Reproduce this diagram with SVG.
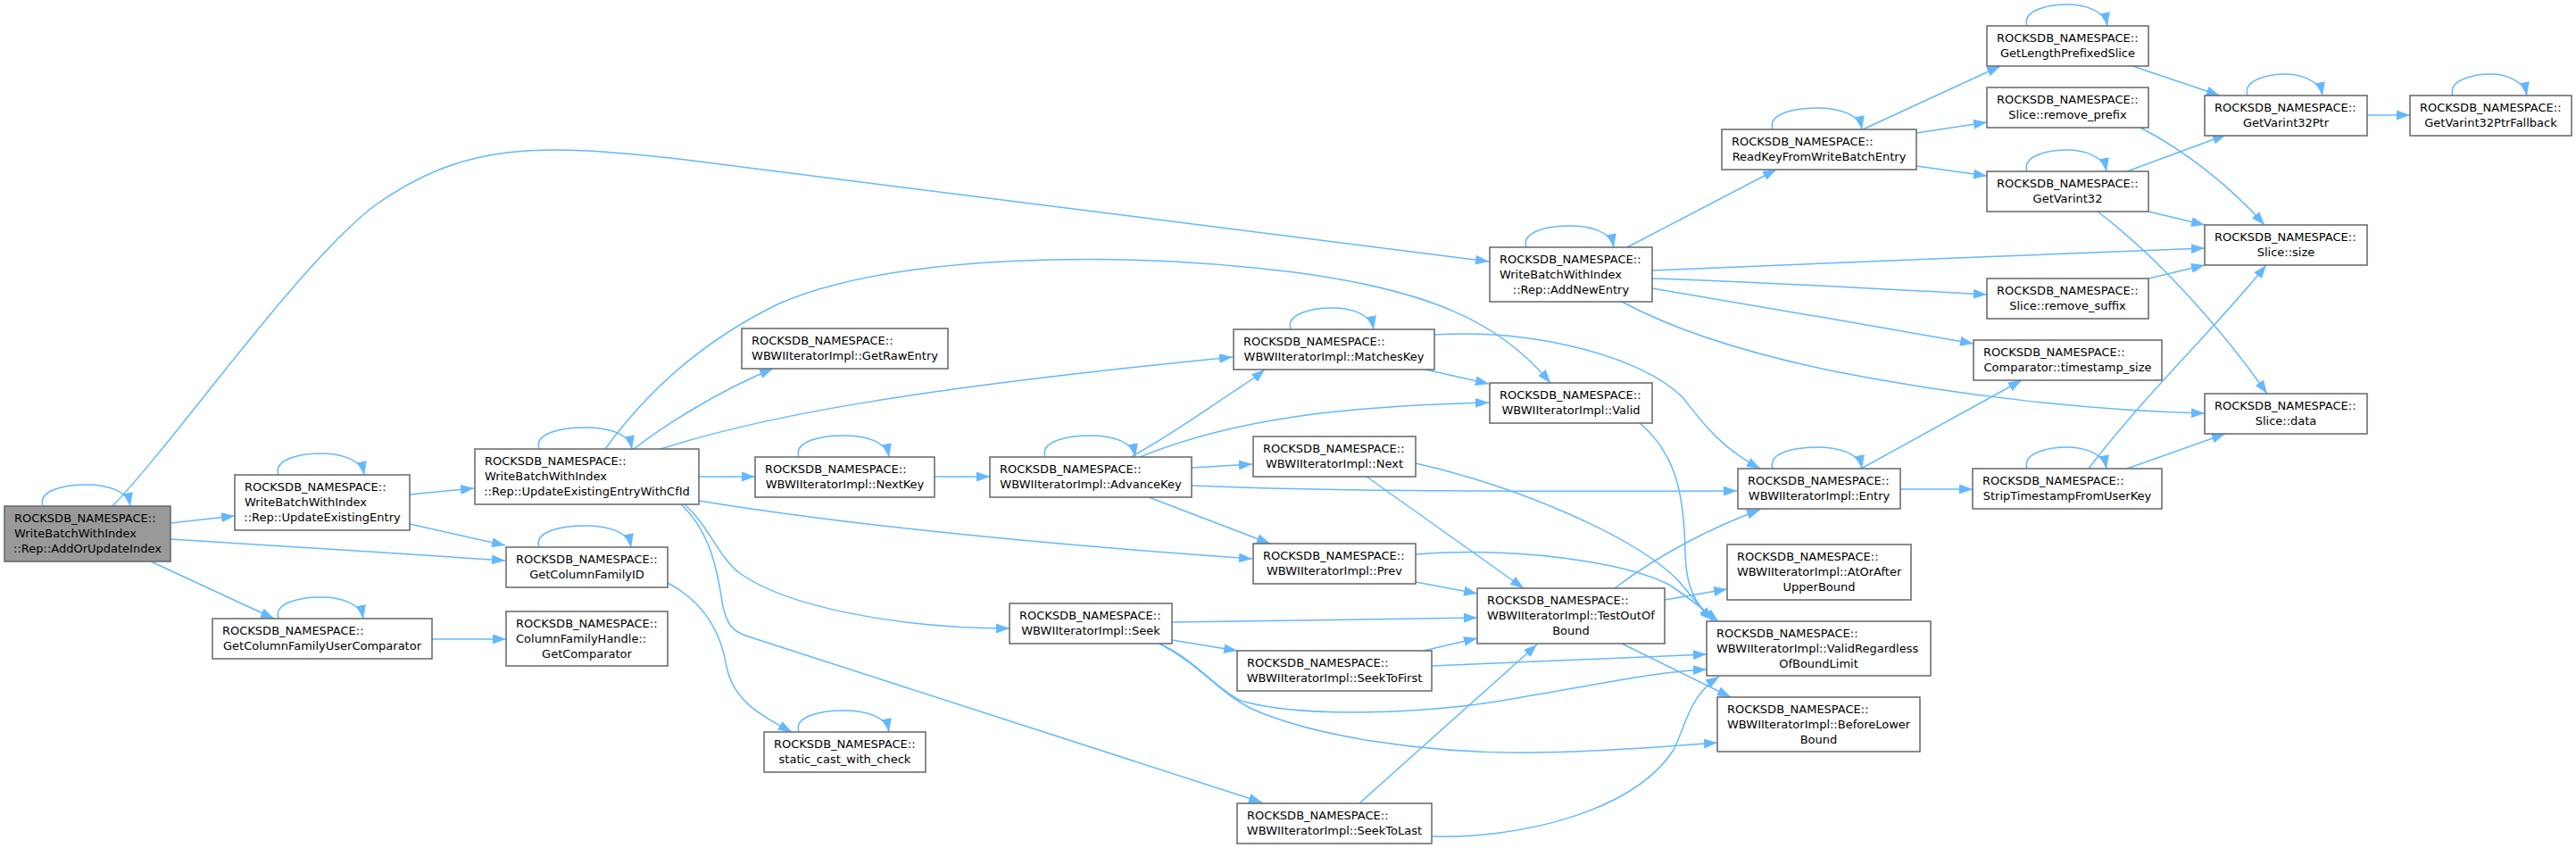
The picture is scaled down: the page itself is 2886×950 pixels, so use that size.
<svg xmlns="http://www.w3.org/2000/svg" width="2886" height="950" viewBox="0 0 2886 950">
<defs>
<marker id="ah" viewBox="0 0 15 11" refX="15" refY="5.5" markerWidth="15" markerHeight="11" markerUnits="userSpaceOnUse" orient="auto"><path d="M0,0 L15,5.5 L0,11 z" fill="#63b8ff"/></marker>
<style>
.n rect{fill:#ffffff;stroke:#666666;stroke-width:1.5}
.root rect{fill:#999999}
text{font-family:'DejaVu Sans',sans-serif;font-size:13px;fill:#000000}
.m{text-anchor:middle}
.e path{fill:none;stroke:#63b8ff;stroke-width:1.5;marker-end:url(#ah)}
</style>
</defs>
<rect width="2886" height="950" fill="#ffffff"/>
<g class="e" id="edges">
<path d="M48,567 C42,549 73,543 97,543 C121,543 143,550 146,567"/>
<path d="M312,532 C306,514 337,508 360,508 C383,508 405,515 408,532"/>
<path d="M312,693 C306,675 337,669 360,669 C382,669 404,676 407,693"/>
<path d="M604,503 C598,485 629,479 656,479 C683,479 705,486 708,503"/>
<path d="M604,613 C598,595 629,589 656,589 C682,589 704,596 707,613"/>
<path d="M895,820 C889,802 920,796 946,796 C971,796 993,803 996,820"/>
<path d="M895,512 C889,494 920,488 946,488 C971,488 993,495 996,512"/>
<path d="M1171,512 C1165,494 1196,488 1222,488 C1247,488 1269,495 1272,512"/>
<path d="M1446,369 C1440,351 1471,345 1493,345 C1514,345 1536,352 1539,369"/>
<path d="M1710,277 C1704,259 1735,253 1759,253 C1783,253 1805,260 1808,277"/>
<path d="M1986,525 C1980,507 2011,501 2036,501 C2061,501 2083,508 2086,525"/>
<path d="M2271,525 C2265,507 2296,501 2316,501 C2335,501 2357,508 2360,525"/>
<path d="M1986,145 C1980,127 2011,121 2036,121 C2061,121 2083,128 2086,145"/>
<path d="M2271,29 C2265,11 2296,5 2316,5 C2336,5 2358,12 2361,29"/>
<path d="M2271,192 C2265,174 2296,168 2316,168 C2335,168 2357,175 2360,192"/>
<path d="M2518,107 C2512,89 2543,83 2560,83 C2577,83 2599,90 2602,107"/>
<path d="M2748,107 C2742,89 2773,83 2790,83 C2806,83 2828,90 2831,107"/>
<path d="M191,586 L263,578"/>
<path d="M191,604 C300,611 450,620 566,628"/>
<path d="M169,629 L307,693"/>
<path d="M126,567 C200,490 330,300 420,230 C520,160 600,160 760,178 L1668,293"/>
<path d="M459,554 L531,547"/>
<path d="M459,587 L566,611"/>
<path d="M484,716 L567,716"/>
<path d="M678,503 C720,445 780,385 873,340 C1000,285 1250,280 1450,305 C1600,325 1680,360 1737,429"/>
<path d="M710,503 C740,480 800,440 866,413"/>
<path d="M740,503 C850,468 1000,438 1381,400"/>
<path d="M783,534 L846,534"/>
<path d="M783,561 C900,580 1100,605 1403,626"/>
<path d="M767,565 C795,590 805,625 830,643 C880,678 1000,704 1131,704"/>
<path d="M763,565 C800,600 805,650 810,680 C815,700 820,706 835,712 L1414,899"/>
<path d="M1047,534 L1109,534"/>
<path d="M1267,512 C1310,488 1350,460 1380,440 C1395,430 1405,424 1417,414"/>
<path d="M1277,512 C1380,470 1500,455 1668,451"/>
<path d="M1335,524 L1403,520"/>
<path d="M1335,544 C1450,549 1600,551 1946,550"/>
<path d="M1287,557 L1423,609"/>
<path d="M1597,414 L1668,430"/>
<path d="M1607,375 C1720,368 1840,400 1885,445 C1905,470 1925,500 1972,525"/>
<path d="M1837,474 C1880,510 1887,560 1888,620 C1889,660 1900,678 1920,695"/>
<path d="M1531,534 L1707,659"/>
<path d="M1586,519 C1700,545 1830,600 1880,650 C1895,668 1905,680 1918,695"/>
<path d="M1586,652 L1655,665"/>
<path d="M1586,621 C1700,612 1820,630 1870,655 C1890,668 1905,680 1925,696"/>
<path d="M1313,697 L1655,692"/>
<path d="M1313,717 L1386,729"/>
<path d="M1299,721 C1340,740 1360,770 1390,785 C1460,805 1600,800 1700,782 C1800,765 1860,752 1912,750"/>
<path d="M1299,721 C1345,745 1365,775 1400,793 C1470,825 1600,845 1720,843 C1800,842 1870,836 1924,832"/>
<path d="M1595,729 L1655,715"/>
<path d="M1604,746 L1912,733"/>
<path d="M1523,900 L1722,722"/>
<path d="M1604,937 C1700,940 1830,910 1875,840 C1890,810 1892,780 1926,758"/>
<path d="M1809,659 C1860,620 1920,590 1972,571"/>
<path d="M1865,672 L1935,660"/>
<path d="M1817,721 L1939,781"/>
<path d="M1823,277 L1990,190"/>
<path d="M1851,303 C2000,296 2300,285 2470,278"/>
<path d="M1851,312 C1950,315 2100,323 2226,330"/>
<path d="M1851,323 C1950,340 2100,365 2211,385"/>
<path d="M1817,338 C1880,372 1960,396 2050,415 C2200,445 2350,460 2470,463"/>
<path d="M2129,548 L2210,548"/>
<path d="M2085,525 L2265,426"/>
<path d="M2340,525 C2400,445 2480,370 2539,297"/>
<path d="M2383,525 L2493,486"/>
<path d="M2087,145 L2241,74"/>
<path d="M2147,149 L2226,137"/>
<path d="M2147,186 L2226,197"/>
<path d="M2389,74 L2487,107"/>
<path d="M2398,143 C2450,170 2500,210 2537,252"/>
<path d="M2383,192 L2494,151"/>
<path d="M2407,237 L2470,252"/>
<path d="M2350,237 C2420,290 2490,370 2540,441"/>
<path d="M2407,312 L2470,297"/>
<path d="M2652,129 L2700,129"/>
<path d="M748,653 C790,675 808,710 814,747 C822,785 850,800 887,820"/>
</g>
<g id="n1" class="n root"><rect x="5" y="567" width="186" height="62"/><text x="16" y="585">ROCKSDB_NAMESPACE::</text><text x="16" y="602">WriteBatchWithIndex</text><text class="m" x="98" y="619">::Rep::AddOrUpdateIndex</text></g>
<g id="n2" class="n"><rect x="263" y="532" width="196" height="62"/><text x="274" y="550">ROCKSDB_NAMESPACE::</text><text x="274" y="567">WriteBatchWithIndex</text><text class="m" x="361" y="584">::Rep::UpdateExistingEntry</text></g>
<g id="n3" class="n"><rect x="238" y="693" width="246" height="45"/><text x="249" y="711">ROCKSDB_NAMESPACE::</text><text class="m" x="361" y="728">GetColumnFamilyUserComparator</text></g>
<g id="n4" class="n"><rect x="532" y="503" width="251" height="62"/><text x="543" y="521">ROCKSDB_NAMESPACE::</text><text x="543" y="538">WriteBatchWithIndex</text><text class="m" x="657.5" y="555">::Rep::UpdateExistingEntryWithCfId</text></g>
<g id="n5" class="n"><rect x="567" y="613" width="181" height="45"/><text x="578" y="631">ROCKSDB_NAMESPACE::</text><text class="m" x="657.5" y="648">GetColumnFamilyID</text></g>
<g id="n6" class="n"><rect x="567" y="685" width="181" height="61"/><text x="578" y="703">ROCKSDB_NAMESPACE::</text><text x="578" y="720">ColumnFamilyHandle::</text><text class="m" x="657.5" y="737">GetComparator</text></g>
<g id="n7" class="n"><rect x="856" y="820" width="181" height="45"/><text x="867" y="838">ROCKSDB_NAMESPACE::</text><text class="m" x="946.5" y="855">static_cast_with_check</text></g>
<g id="n8" class="n"><rect x="831" y="368" width="231" height="45"/><text x="842" y="386">ROCKSDB_NAMESPACE::</text><text class="m" x="946.5" y="403">WBWIIteratorImpl::GetRawEntry</text></g>
<g id="n9" class="n"><rect x="846" y="512" width="201" height="45"/><text x="857" y="530">ROCKSDB_NAMESPACE::</text><text class="m" x="946.5" y="547">WBWIIteratorImpl::NextKey</text></g>
<g id="n10" class="n"><rect x="1109" y="512" width="226" height="45"/><text x="1120" y="530">ROCKSDB_NAMESPACE::</text><text class="m" x="1222" y="547">WBWIIteratorImpl::AdvanceKey</text></g>
<g id="n11" class="n"><rect x="1382" y="369" width="225" height="45"/><text x="1393" y="387">ROCKSDB_NAMESPACE::</text><text class="m" x="1494.5" y="404">WBWIIteratorImpl::MatchesKey</text></g>
<g id="n12" class="n"><rect x="1669" y="429" width="182" height="45"/><text x="1680" y="447">ROCKSDB_NAMESPACE::</text><text class="m" x="1760" y="464">WBWIIteratorImpl::Valid</text></g>
<g id="n13" class="n"><rect x="1404" y="489" width="182" height="45"/><text x="1415" y="507">ROCKSDB_NAMESPACE::</text><text class="m" x="1495" y="524">WBWIIteratorImpl::Next</text></g>
<g id="n14" class="n"><rect x="1404" y="609" width="182" height="45"/><text x="1415" y="627">ROCKSDB_NAMESPACE::</text><text class="m" x="1495" y="644">WBWIIteratorImpl::Prev</text></g>
<g id="n15" class="n"><rect x="1131" y="676" width="182" height="45"/><text x="1142" y="694">ROCKSDB_NAMESPACE::</text><text class="m" x="1222" y="711">WBWIIteratorImpl::Seek</text></g>
<g id="n16" class="n"><rect x="1386" y="729" width="218" height="45"/><text x="1397" y="747">ROCKSDB_NAMESPACE::</text><text class="m" x="1495" y="764">WBWIIteratorImpl::SeekToFirst</text></g>
<g id="n17" class="n"><rect x="1386" y="900" width="218" height="45"/><text x="1397" y="918">ROCKSDB_NAMESPACE::</text><text class="m" x="1495" y="935">WBWIIteratorImpl::SeekToLast</text></g>
<g id="n18" class="n"><rect x="1655" y="659" width="210" height="62"/><text x="1666" y="677">ROCKSDB_NAMESPACE::</text><text x="1666" y="694">WBWIIteratorImpl::TestOutOf</text><text class="m" x="1760" y="711">Bound</text></g>
<g id="n19" class="n"><rect x="1669" y="277" width="182" height="61"/><text x="1680" y="295">ROCKSDB_NAMESPACE::</text><text x="1680" y="312">WriteBatchWithIndex</text><text class="m" x="1760" y="329">::Rep::AddNewEntry</text></g>
<g id="n20" class="n"><rect x="1947" y="525" width="182" height="45"/><text x="1958" y="543">ROCKSDB_NAMESPACE::</text><text class="m" x="2038" y="560">WBWIIteratorImpl::Entry</text></g>
<g id="n21" class="n"><rect x="1935" y="610" width="206" height="62"/><text x="1946" y="628">ROCKSDB_NAMESPACE::</text><text x="1946" y="645">WBWIIteratorImpl::AtOrAfter</text><text class="m" x="2038" y="662">UpperBound</text></g>
<g id="n22" class="n"><rect x="1912" y="696" width="251" height="61"/><text x="1923" y="714">ROCKSDB_NAMESPACE::</text><text x="1923" y="731">WBWIIteratorImpl::ValidRegardless</text><text class="m" x="2037.5" y="748">OfBoundLimit</text></g>
<g id="n23" class="n"><rect x="1924" y="781" width="227" height="61"/><text x="1935" y="799">ROCKSDB_NAMESPACE::</text><text x="1935" y="816">WBWIIteratorImpl::BeforeLower</text><text class="m" x="2037.5" y="833">Bound</text></g>
<g id="n24" class="n"><rect x="1929" y="145" width="218" height="45"/><text x="1940" y="163">ROCKSDB_NAMESPACE::</text><text class="m" x="2038" y="180">ReadKeyFromWriteBatchEntry</text></g>
<g id="n25" class="n"><rect x="2226" y="29" width="181" height="45"/><text x="2237" y="47">ROCKSDB_NAMESPACE::</text><text class="m" x="2316.5" y="64">GetLengthPrefixedSlice</text></g>
<g id="n26" class="n"><rect x="2226" y="98" width="181" height="45"/><text x="2237" y="116">ROCKSDB_NAMESPACE::</text><text class="m" x="2316.5" y="133">Slice::remove_prefix</text></g>
<g id="n27" class="n"><rect x="2226" y="192" width="181" height="45"/><text x="2237" y="210">ROCKSDB_NAMESPACE::</text><text class="m" x="2316.5" y="227">GetVarint32</text></g>
<g id="n28" class="n"><rect x="2226" y="312" width="181" height="45"/><text x="2237" y="330">ROCKSDB_NAMESPACE::</text><text class="m" x="2316.5" y="347">Slice::remove_suffix</text></g>
<g id="n29" class="n"><rect x="2211" y="381" width="211" height="45"/><text x="2222" y="399">ROCKSDB_NAMESPACE::</text><text class="m" x="2316.5" y="416">Comparator::timestamp_size</text></g>
<g id="n30" class="n"><rect x="2210" y="525" width="212" height="45"/><text x="2221" y="543">ROCKSDB_NAMESPACE::</text><text class="m" x="2316" y="560">StripTimestampFromUserKey</text></g>
<g id="n31" class="n"><rect x="2470" y="107" width="182" height="45"/><text x="2481" y="125">ROCKSDB_NAMESPACE::</text><text class="m" x="2561" y="142">GetVarint32Ptr</text></g>
<g id="n32" class="n"><rect x="2470" y="252" width="182" height="45"/><text x="2481" y="270">ROCKSDB_NAMESPACE::</text><text class="m" x="2561" y="287">Slice::size</text></g>
<g id="n33" class="n"><rect x="2470" y="441" width="182" height="45"/><text x="2481" y="459">ROCKSDB_NAMESPACE::</text><text class="m" x="2561" y="476">Slice::data</text></g>
<g id="n34" class="n"><rect x="2700" y="107" width="181" height="45"/><text x="2711" y="125">ROCKSDB_NAMESPACE::</text><text class="m" x="2790.5" y="142">GetVarint32PtrFallback</text></g>
</svg>
